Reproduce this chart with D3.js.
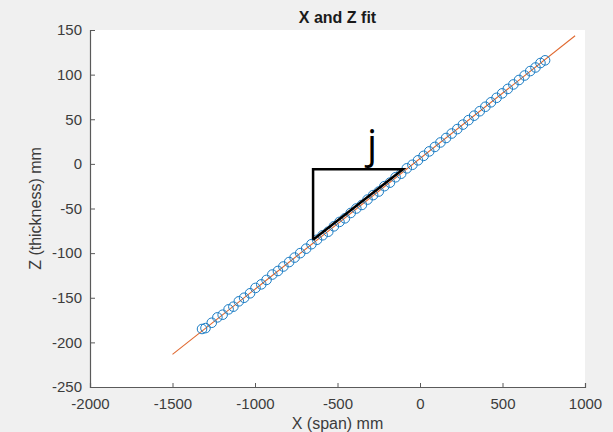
<!DOCTYPE html>
<html>
<head>
<meta charset="utf-8">
<script src="https://cdn.jsdelivr.net/npm/d3@7"></script>
<style>
  html, body { margin: 0; padding: 0; background: #f0f0f0; }
  svg { display: block; }
  text { font-family: "Liberation Sans", Arial, Helvetica, sans-serif; }
</style>
</head>
<body>
<svg id="chart" width="613" height="432"></svg>
<script>
// ---- data ----
const title = "X and Z fit";
const xLabel = "X (span) mm";
const yLabel = "Z (thickness) mm";
const xTicks = [-2000, -1500, -1000, -500, 0, 500, 1000];
const yTicks = [-250, -200, -150, -100, -50, 0, 50, 100, 150];

// measured points (X span, Z thickness)
const pointsX = [-1321, -1300, -1262, -1228, -1196, -1160, -1131, -1098, -1066, -1030,
  -997, -962, -930, -895, -861, -828, -793, -760, -726, -690,
  -658, -624, -590, -556, -522, -488, -455, -420, -386, -352,
  -318, -284, -250, -216, -182, -148, -114, -80, -46, -12,
  22, 56, 90, 124, 158, 192, 226, 260, 294, 328,
  362, 396, 430, 464, 498, 532, 566, 600, 634, 668,
  700, 730, 758];
const pointsZ = [-185, -184, -178, -172, -169, -163, -160, -154, -150, -145,
  -139, -135, -130, -124, -120, -115, -110, -105, -100, -95,
  -90, -85, -80, -76, -70, -65, -61, -55, -50, -46,
  -40, -35, -31, -25, -21, -15, -11, -5, -1, 4,
  9, 14, 19, 24, 29, 34, 39, 44, 49, 54,
  59, 64, 69, 74, 79, 84, 89, 94, 99, 104,
  108, 113, 116];

// linear fit line endpoints
const fitX = [-1500, 940];
const fitZ = [-213.5, 143.5];

// slope triangle annotation
const triX = [-648, -648, -103, -648];
const triZ = [-85, -6, -6, -85];
const triLabel = "j";

// ---- layout ----
const svg = d3.select("#chart");
const W = 613, H = 432;
const mLeft = 90, mRight = 585, mTop = 30, mBottom = 387;

const x = d3.scaleLinear().domain([-2000, 1000]).range([mLeft, mRight]);
const y = d3.scaleLinear().domain([-250, 150]).range([mBottom, mTop]);
const fmt = d => String(d); // plain hyphen-minus like the reference

svg.append("rect").attr("width", W).attr("height", H).attr("fill", "#f0f0f0");
svg.append("rect").attr("x", mLeft).attr("y", mTop)
  .attr("width", mRight - mLeft).attr("height", mBottom - mTop).attr("fill", "#ffffff");

// axes
const xAxis = d3.axisBottom(x).tickValues(xTicks).tickSize(-4).tickPadding(10).tickFormat(fmt);
const yAxis = d3.axisLeft(y).tickValues(yTicks).tickSize(-5).tickPadding(8).tickFormat(fmt);

const gx = svg.append("g").attr("transform", `translate(0,${mBottom})`).call(xAxis);
const gy = svg.append("g").attr("transform", `translate(${mLeft},0)`).call(yAxis);
[gx, gy].forEach(g => {
  g.select(".domain").attr("stroke", "#5a5a5a").attr("stroke-width", 1.2);
  g.selectAll(".tick line").attr("stroke", "#5a5a5a").attr("stroke-width", 1);
  g.selectAll(".tick text").attr("fill", "#3c3c3c").style("font-size", "15px")
    .style("font-family", "'Liberation Sans', Arial, sans-serif");
});
gx.selectAll(".tick text").attr("dy", "0.71em").attr("y", 11);
gy.selectAll(".tick text").attr("x", -8);

// fit line
const line = d3.line().x(d => x(d[0])).y(d => y(d[1]));
svg.append("path").datum(fitX.map((v, i) => [v, fitZ[i]]))
  .attr("d", line).attr("fill", "none").attr("stroke", "#E0682F").attr("stroke-width", 1.1);

// points
svg.append("g").selectAll("circle").data(pointsX.map((v, i) => [v, pointsZ[i]]))
  .join("circle")
  .attr("cx", d => x(d[0])).attr("cy", d => y(d[1])).attr("r", 4.8)
  .attr("fill", "none").attr("stroke", "#1a7cc4").attr("stroke-width", 1);

// triangle annotation
svg.append("path").datum(triX.map((v, i) => [v, triZ[i]]))
  .attr("d", line).attr("fill", "none").attr("stroke", "#000").attr("stroke-width", 2.5)
  .attr("stroke-linejoin", "miter");

svg.append("text").attr("x", x(-290)).attr("y", y(7))
  .attr("text-anchor", "middle").style("font-size", "40px").attr("fill", "#000")
  .style("font-family", "'Open Sans', 'Liberation Sans', sans-serif")
  .text(triLabel);

// title & labels
svg.append("text").attr("x", (mLeft + mRight) / 2).attr("y", 23)
  .attr("text-anchor", "middle").style("font-size", "16px").style("font-weight", "bold")
  .attr("fill", "#1a1a1a").text(title);

svg.append("text").attr("x", (mLeft + mRight) / 2).attr("y", 429)
  .attr("text-anchor", "middle").style("font-size", "16px").attr("fill", "#3c3c3c")
  .text(xLabel);

svg.append("text").attr("transform", `translate(41,${(mTop + mBottom) / 2}) rotate(-90)`)
  .attr("text-anchor", "middle").style("font-size", "16px").attr("fill", "#3c3c3c")
  .text(yLabel);
</script>
</body>
</html>
